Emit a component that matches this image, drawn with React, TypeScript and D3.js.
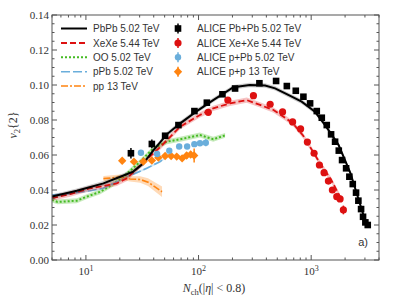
import * as d3 from 'd3';

// ALICE data points
const pbpbN = [25.1, 38.5, 50.5, 66.3, 91.9, 118.5, 163, 211, 347, 488, 608, 730, 853, 978, 1121, 1242, 1375, 1502, 1630, 1758, 1880, 2042, 2183, 2340, 2502, 2624, 2773, 2887, 3027, 3178];
const pbpbV = [0.061, 0.0663, 0.071, 0.0771, 0.0851, 0.0899, 0.0947, 0.098, 0.101, 0.1023, 0.0994, 0.0967, 0.0933, 0.0895, 0.0851, 0.0813, 0.0771, 0.0718, 0.0676, 0.0625, 0.0571, 0.0524, 0.0476, 0.0434, 0.0385, 0.0339, 0.0291, 0.0247, 0.0215, 0.020];
const pbpbE = [0.003, 0.0025, 0.001, 0.001, 0.0008, 0.0008, 0.0008, 0.0008, 0.0008, 0.0008, 0.0008, 0.0008, 0.0008, 0.0008, 0.0008, 0.0008, 0.0008, 0.0008, 0.0008, 0.0008, 0.0008, 0.0008, 0.0008, 0.0008, 0.0008, 0.0008, 0.0008, 0.0008, 0.0008, 0.0008];

const xexeN = [122, 182, 307, 432, 557, 684, 805, 925, 1061, 1183, 1301, 1422, 1542, 1687, 1805, 1931];
const xexeV = [0.0844, 0.0914, 0.0939, 0.089, 0.0846, 0.0789, 0.0749, 0.0674, 0.061, 0.0543, 0.0499, 0.0451, 0.04, 0.0362, 0.0349, 0.0286];
const xexeE = [0.0015, 0.0012, 0.0012, 0.001, 0.001, 0.001, 0.001, 0.001, 0.001, 0.001, 0.001, 0.001, 0.001, 0.001, 0.001, 0.0025];

const ppbN = [30.8, 42.9, 55, 67.3, 79.2, 91.8, 103, 116];
const ppbV = [0.0613, 0.0606, 0.0625, 0.0649, 0.0649, 0.0662, 0.0667, 0.067];
const ppbE = [0.0008, 0.0008, 0.0008, 0.0008, 0.0008, 0.001, 0.0012, 0.002];

const ppN = [21, 26.7, 32.4, 38.5, 44, 50.5, 57.1, 64, 71.5, 78.4, 85.1, 91.4];
const ppV = [0.0567, 0.0562, 0.0563, 0.0569, 0.0585, 0.0594, 0.0594, 0.0591, 0.0581, 0.0597, 0.0603, 0.0597];
const ppE = [0.001, 0.001, 0.001, 0.001, 0.001, 0.001, 0.001, 0.001, 0.0015, 0.002, 0.002, 0.004];

// model curves
const pbpbThN = [5, 8.3, 14.3, 20.2, 26.3, 32.4, 40, 52.3, 68.7, 96.6, 135, 204, 285, 390, 478, 626, 823, 1081, 1330, 1752, 2230, 3100];
const pbpbThV = [0.0362, 0.0396, 0.0438, 0.0476, 0.0505, 0.0552, 0.0629, 0.0718, 0.0781, 0.0851, 0.0914, 0.0987, 0.1, 0.0997, 0.0981, 0.0943, 0.0905, 0.0847, 0.0771, 0.0657, 0.0497, 0.02];
const pbpbThE = 0.0013;

const xexeThN = [5, 7.25, 10.9, 14.3, 18.8, 23.2, 30.3, 45.6, 68.7, 103, 135, 190, 268, 352, 463, 609, 700, 850, 980, 1200, 1500, 1800];
const xexeThV = [0.0353, 0.0377, 0.041, 0.0423, 0.0438, 0.0467, 0.054, 0.0645, 0.0762, 0.0829, 0.0867, 0.0895, 0.0914, 0.0886, 0.0857, 0.0805, 0.0775, 0.071, 0.0645, 0.0552, 0.046, 0.0362];
const xexeThE = 0.0015;

const ooN = [5, 5.6, 8.3, 10.2, 13.4, 16.4, 20.9, 30.3, 39.8, 52.3, 68.7, 103, 135, 172];
const ooV = [0.0343, 0.0332, 0.0339, 0.0362, 0.039, 0.0423, 0.0467, 0.0562, 0.0638, 0.0676, 0.069, 0.0714, 0.069, 0.0712];
const ooE = 0.0014;

const ppbThN = [5, 7.25, 10.9, 14.3, 21.6, 26.3, 34.7, 45.6, 56];
const ppbThV = [0.0371, 0.038, 0.0396, 0.041, 0.0465, 0.049, 0.0524, 0.0562, 0.0605];
const ppbThE = 0.0006;

const ppThN = [14.3, 20.2, 24.7, 30.3, 35.6, 47.4];
const ppThV = [0.0465, 0.0474, 0.0463, 0.046, 0.0445, 0.039];
const ppThE = [0.0015, 0.0015, 0.0015, 0.0018, 0.0022, 0.003];

const legendLeft = ['PbPb 5.02 TeV', 'XeXe 5.44 TeV', 'OO 5.02 TeV', 'pPb 5.02 TeV', 'pp 13 TeV'];
const legendRight = ['ALICE Pb+Pb 5.02 TeV', 'ALICE Xe+Xe 5.44 TeV', 'ALICE p+Pb 5.02 TeV', 'ALICE p+p 13 TeV'];

const W = 399, H = 299;
const L = 52, R = 379, T = 15, B = 260;
const x = d3.scaleLog().domain([5, 4000]).range([L, R]);
const y = d3.scaleLinear().domain([0, 0.14]).range([B, T]);

const BLACK = '#000000', RED = '#dd1111', GREEN = '#44bb22', BLUE = '#6aaedb', ORANGE = '#ff8410';
const AXIS = '#555555';
const SANS = '"Liberation Sans", Arial, sans-serif';
const SERIF = '"Liberation Serif", "DejaVu Serif", serif';

type Curve = { n: number[]; v: number[]; e: number | number[]; color: string; band: string; dash: string; width: number };

const curves: Curve[] = [
  { n: ooN, v: ooV, e: ooE, color: GREEN, band: 'rgba(68,187,34,0.3)', dash: '2,2', width: 2 },
  { n: ppbThN, v: ppbThV, e: ppbThE, color: BLUE, band: 'rgba(106,174,219,0.3)', dash: '9,3', width: 1.6 },
  { n: ppThN, v: ppThV, e: ppThE, color: ORANGE, band: 'rgba(255,132,16,0.3)', dash: '7,2,2,2', width: 1.6 },
  { n: xexeThN, v: xexeThV, e: xexeThE, color: RED, band: 'rgba(221,17,17,0.25)', dash: '6,3', width: 1.8 },
  { n: pbpbThN, v: pbpbThV, e: pbpbThE, color: BLACK, band: 'rgba(0,0,0,0.2)', dash: '', width: 2 },
];

function Marker({ kind, cx, cy, color }: { kind: string; cx: number; cy: number; color: string }) {
  if (kind === 'square') return <rect x={cx - 3.3} y={cy - 3.3} width={6.6} height={6.6} fill={color} />;
  if (kind === 'diamond') return <path d={`M${cx},${cy - 4.2}L${cx + 4.2},${cy}L${cx},${cy + 4.2}L${cx - 4.2},${cy}Z`} fill={color} />;
  if (kind === 'small') return <circle cx={cx} cy={cy} r={3.2} fill={color} />;
  return <circle cx={cx} cy={cy} r={3.6} fill={color} />;
}

export default function App() {
  const line = d3.line<[number, number]>().x((d) => x(d[0])).y((d) => y(d[1]));
  const area = d3.area<[number, number, number]>().x((d) => x(d[0])).y0((d) => y(d[1] - d[2])).y1((d) => y(d[1] + d[2]));

  const sets = [
    { n: ppN, v: ppV, e: ppE, color: ORANGE, kind: 'diamond' },
    { n: ppbN, v: ppbV, e: ppbE, color: BLUE, kind: 'small' },
    { n: xexeN, v: xexeV, e: xexeE, color: RED, kind: 'circle' },
    { n: pbpbN, v: pbpbV, e: pbpbE, color: BLACK, kind: 'square' },
  ];

  const xMajor = [10, 100, 1000];
  const xMinor: number[] = [];
  [1, 10, 100, 1000].forEach((d) => {
    for (let k = 2; k <= 9; k++) {
      const v = d * k;
      if (v >= 5 && v <= 4000) xMinor.push(v);
    }
  });
  const yTicks = d3.range(0, 0.1401, 0.005);

  const legendRows = [28.5, 43, 57.3, 71.7, 86];
  const leftStyles = [
    { color: BLACK, dash: '', width: 2 },
    { color: RED, dash: '6,3', width: 1.8 },
    { color: GREEN, dash: '2,2', width: 2 },
    { color: BLUE, dash: '9,3', width: 1.6 },
    { color: ORANGE, dash: '7,2,2,2', width: 1.6 },
  ];
  const rightMarkers = [
    { color: BLACK, kind: 'square' },
    { color: RED, kind: 'circle' },
    { color: BLUE, kind: 'small' },
    { color: ORANGE, kind: 'diamond' },
  ];

  return (
    <svg width={W} height={H} style={{ position: 'absolute', left: 0, top: 0, background: '#fff' }}>
      <defs>
        <clipPath id="plot">
          <rect x={L} y={T} width={R - L} height={B - T} />
        </clipPath>
      </defs>

      <g clipPath="url(#plot)">
        {curves.map((c, i) => {
          const band = c.n.map((n, j) => [n, c.v[j], Array.isArray(c.e) ? c.e[j] : c.e] as [number, number, number]);
          const pts = c.n.map((n, j) => [n, c.v[j]] as [number, number]);
          return (
            <g key={i}>
              <path d={area(band) || ''} fill={c.band} />
              <path d={line(pts) || ''} fill="none" stroke={c.color} strokeWidth={c.width} strokeDasharray={c.dash || undefined} />
            </g>
          );
        })}
        {sets.map((s, i) => (
          <g key={i}>
            {s.n.map((n, j) => (
              <g key={j}>
                <line x1={x(n)} x2={x(n)} y1={y(s.v[j] - s.e[j])} y2={y(s.v[j] + s.e[j])} stroke={s.color} strokeWidth={1.5} />
                <Marker kind={s.kind} cx={x(n)} cy={y(s.v[j])} color={s.color} />
              </g>
            ))}
          </g>
        ))}
      </g>

      {/* frame and ticks */}
      <rect x={L} y={T} width={R - L} height={B - T} fill="none" stroke={AXIS} strokeWidth={1} />
      {xMajor.map((t) => (
        <g key={t}>
          <line x1={x(t)} x2={x(t)} y1={B} y2={B - 5} stroke={AXIS} />
          <line x1={x(t)} x2={x(t)} y1={T} y2={T + 5} stroke={AXIS} />
          <text x={x(t)} y={B + 15} textAnchor="middle" fontFamily={SERIF} fontSize={11} fill="#333">
            10<tspan dy={-4} fontSize={8}>{Math.log10(t)}</tspan>
          </text>
        </g>
      ))}
      {xMinor.map((t) => (
        <g key={t}>
          <line x1={x(t)} x2={x(t)} y1={B} y2={B - 2.5} stroke={AXIS} />
          <line x1={x(t)} x2={x(t)} y1={T} y2={T + 2.5} stroke={AXIS} />
        </g>
      ))}
      {yTicks.map((t, i) => {
        const major = i % 4 === 0;
        const len = major ? 5 : 2.5;
        return (
          <g key={i}>
            <line x1={L} x2={L + len} y1={y(t)} y2={y(t)} stroke={AXIS} />
            <line x1={R} x2={R - len} y1={y(t)} y2={y(t)} stroke={AXIS} />
            {major && (
              <text x={L - 3} y={y(t) + 3.8} textAnchor="end" fontFamily={SERIF} fontSize={11} fill="#333">
                {d3.format('.2f')(t)}
              </text>
            )}
          </g>
        );
      })}

      {/* axis titles */}
      <text x={214} y={292} textAnchor="middle" fontFamily={SERIF} fontSize={12} fill="#333">
        <tspan fontStyle="italic">N</tspan>
        <tspan dy={2.5} fontSize={8.5}>ch</tspan>
        <tspan dy={-2.5}>(|</tspan>
        <tspan fontStyle="italic">η</tspan>
        <tspan>| &lt; 0.8)</tspan>
      </text>
      <text transform="translate(17,125) rotate(-90)" textAnchor="middle" fontFamily={SERIF} fontSize={12} fill="#333">
        <tspan fontStyle="italic">v</tspan>
        <tspan dy={2.5} fontSize={8.5}>2</tspan>
        <tspan dy={-2.5}>{'{2}'}</tspan>
      </text>

      {/* legend */}
      {legendLeft.map((label, i) => (
        <g key={label}>
          <line x1={61} x2={87} y1={legendRows[i]} y2={legendRows[i]} stroke={leftStyles[i].color} strokeWidth={leftStyles[i].width} strokeDasharray={leftStyles[i].dash || undefined} />
          <text x={93} y={legendRows[i] + 3.5} fontFamily={SANS} fontSize={10} fill="#333">{label}</text>
        </g>
      ))}
      {legendRight.map((label, i) => (
        <g key={label}>
          <line x1={178} x2={178} y1={legendRows[i] - 5} y2={legendRows[i] + 5} stroke={rightMarkers[i].color} strokeWidth={1.5} />
          <Marker kind={rightMarkers[i].kind} cx={178} cy={legendRows[i]} color={rightMarkers[i].color} />
          <text x={197} y={legendRows[i] + 3.5} fontFamily={SANS} fontSize={10} fill="#333">{label}</text>
        </g>
      ))}

      <text x={368} y={246} textAnchor="end" fontFamily={SANS} fontSize={11} fill="#333">a)</text>
    </svg>
  );
}
